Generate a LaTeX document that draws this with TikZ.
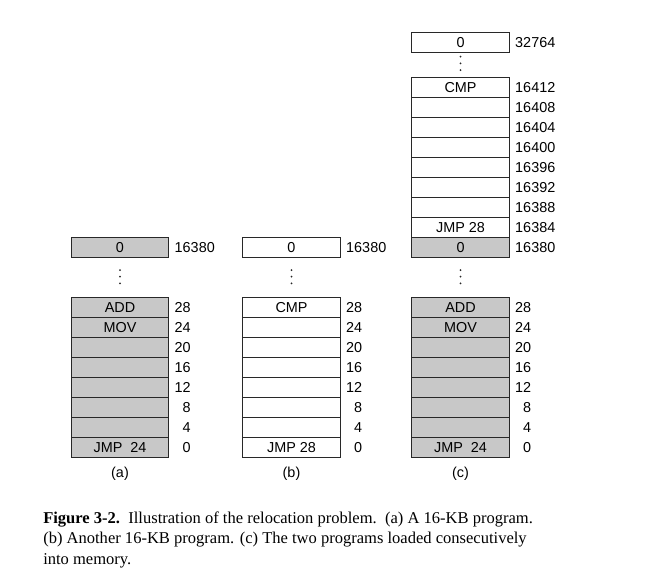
\documentclass[tikz,border=0pt]{standalone}
\usepackage{fontspec}
\setmainfont{Liberation Serif}
\newfontfamily\diagfont{Liberation Sans}
\definecolor{cellgray}{RGB}{200,200,200}
\definecolor{linegray}{RGB}{40,40,40}
\begin{document}
\begin{tikzpicture}[x=0.75pt,y=-0.75pt,
  dfont/.style={font=\diagfont\fontsize{10.8}{13}\selectfont},
  cell/.style={draw=linegray,line width=0.65pt,minimum width=73.1pt,minimum height=15pt,
    inner sep=0pt,outer sep=0pt,dfont,text height=7.7pt,text depth=0pt},
  gcell/.style={cell,fill=cellgray},
  wcell/.style={cell,fill=white},
  addr/.style={inner sep=0pt,outer sep=0pt,dfont,text height=7.7pt,text depth=0pt},
  sublabel/.style={inner sep=0pt,outer sep=0pt,dfont},
  dot/.style={fill=linegray}
]
\useasboundingbox (0,0) rectangle (650,579);

% ---------- (a) ----------
\node[gcell] (atop) at (120,247.3) {0};
\node[addr,anchor=west] (latop) at ([xshift=4.5pt]atop.east) {16380};
\foreach \dy in {0,6.67,13.33} \fill[dot] (120,{270+\dy}) circle (0.75pt);
\foreach \t/\l [count=\k from 0] in {{JMP~~24}/0,{}/4,{}/8,{}/12,{}/16,{}/20,{MOV}/24,{ADD}/28}{
  \node[gcell] (a\k) at (120,{447.3-20*\k}) {\t};
  \node[addr,anchor=east] (la\k) at ([xshift=16.5pt]a\k.east) {\l};
}
\node[sublabel] (capa) at (120,473.5) {(a)};

% ---------- (b) ----------
\node[wcell] (btop) at (291.5,247.3) {0};
\node[addr,anchor=west] (lbtop) at ([xshift=4.5pt]btop.east) {16380};
\foreach \dy in {0,6.67,13.33} \fill[dot] (291.5,{270+\dy}) circle (0.75pt);
\foreach \t/\l [count=\k from 0] in {{JMP 28}/0,{}/4,{}/8,{}/12,{}/16,{}/20,{}/24,{CMP}/28}{
  \node[wcell] (b\k) at (291.5,{447.3-20*\k}) {\t};
  \node[addr,anchor=east] (lb\k) at ([xshift=16.5pt]b\k.east) {\l};
}
\node[sublabel] (capb) at (291.5,473.5) {(b)};

% ---------- (c) ----------
\node[wcell] (ctop) at (460.5,42.3) {0};
\node[addr,anchor=west] (lctop) at ([xshift=4.5pt]ctop.east) {32764};
\foreach \dy in {0,6.67,13.33} \fill[dot] (460.5,{56.7+\dy}) circle (0.75pt);
\node[gcell] (cmid) at (460.5,247.3) {0};
\node[addr,anchor=west] (lcmid) at ([xshift=4.5pt]cmid.east) {16380};
\foreach \t/\l [count=\k from 1] in {{JMP 28}/16384,{}/16388,{}/16392,{}/16396,{}/16400,{}/16404,{}/16408,{CMP}/16412}{
  \node[wcell] (u\k) at (460.5,{247.3-20*\k}) {\t};
  \node[addr,anchor=west] (lu\k) at ([xshift=4.5pt]u\k.east) {\l};
}
\foreach \dy in {0,6.67,13.33} \fill[dot] (460.5,{270+\dy}) circle (0.75pt);
\foreach \t/\l [count=\k from 0] in {{JMP~~24}/0,{}/4,{}/8,{}/12,{}/16,{}/20,{MOV}/24,{ADD}/28}{
  \node[gcell] (c\k) at (460.5,{447.3-20*\k}) {\t};
  \node[addr,anchor=east] (lc\k) at ([xshift=16.5pt]c\k.east) {\l};
}
\node[sublabel] (capc) at (460.5,473.5) {(c)};

% ---------- caption ----------
\node[anchor=base west,align=left,inner sep=0pt,
      font=\fontsize{12.4}{15.4}\selectfont] (caption) at (43,564.3)
  {\textbf{Figure 3-2.}\enspace Illustration of the relocation problem.\enspace (a) A 16-KB program.\\
   (b) Another 16-KB program. (c) The two programs loaded consecutively\\
   into memory.};
\end{tikzpicture}
\end{document}
